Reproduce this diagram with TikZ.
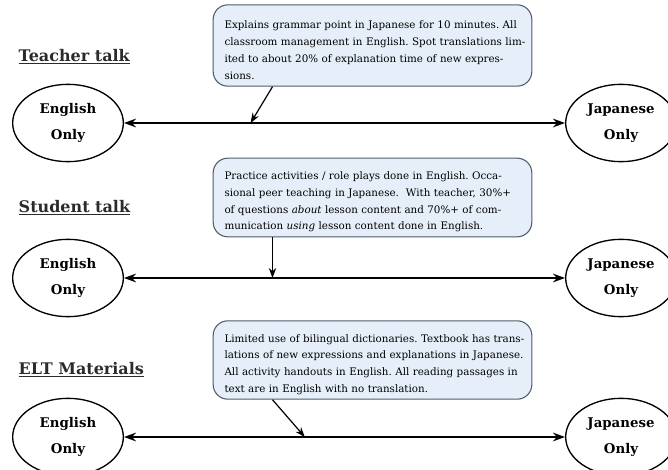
\documentclass[tikz,border=0pt]{standalone}
\usepackage{fontspec}
\setmainfont{DejaVu Serif}
\usetikzlibrary{shapes.geometric,calc,arrows.meta}
\frenchspacing

\definecolor{calloutfill}{HTML}{E6EFF9}
\definecolor{calloutdraw}{HTML}{4F5D6B}
\definecolor{headink}{HTML}{2B2B2B}

% one justified line of a callout
\newcommand{\fitline}[1]{\par\noindent\hbox to\linewidth{#1}\par}

\begin{document}
\begin{tikzpicture}[
    x=0.75pt, y=-0.75pt,
    % Define styles
    callout/.style={
        rectangle,
        draw=calloutdraw,
        fill=calloutfill,
        line width=0.8pt,
        rounded corners=11pt,
        minimum width=239pt,
        inner xsep=8.5pt,
        text width=222pt,
        align=left,
        font=\fontsize{7.75}{12.6}\selectfont
    },
    pole/.style={
        ellipse,
        draw,
        line width=1pt,
        minimum width=83pt,
        minimum height=58pt,
        inner sep=0pt,
        align=center,
        font=\fontsize{10}{19}\selectfont\bfseries
    },
    heading/.style={
        anchor=west,
        text=headink,
        font=\fontsize{12}{14}\selectfont\bfseries
    },
    continuum/.style={
        {Stealth[length=9pt,width=6.5pt]}-{Stealth[length=9pt,width=6.5pt]},
        line width=1.4pt
    },
    pointer/.style={
        -{Stealth[length=7.5pt,width=5.5pt]},
        line width=0.9pt
    }
]

\clip (0,0) rectangle (668,470);

% Teacher talk
\node[callout, minimum height=61pt] (box1) at (372.5,45.5) {\fitline{Explains grammar point in Japanese for 10 minutes. All}\fitline{classroom management in English. Spot translations lim-}\fitline{ited to about 20\% of explanation time of new expres-}sions.};
\node[heading] (head1) at (14,57) {\underline{Teacher talk}};
\node[pole] (eng1) at (68,123) {English\\Only};
\node[pole] (jap1) at (621,123) {Japanese\\Only};
\draw[continuum] (eng1) -- (jap1);
\coordinate (from1) at ([xshift=-75pt]box1.south);
\coordinate (tip1) at ($(eng1.east)!0.287!(jap1.west)$);
\draw[pointer] (from1) -- (tip1);

% Student talk
\node[callout, minimum height=59pt] (box2) at (372.5,197.5) {\fitline{Practice activities / role plays done in English. Occa-}\fitline{sional peer teaching in Japanese.\ \ With teacher, 30\%+}\fitline{of questions \textit{about} lesson content and 70\%+ of com-}munication \textit{using} lesson content done in English.};
\node[heading] (head2) at (14,208) {\underline{Student talk}};
\node[pole] (eng2) at (68,278) {English\\Only};
\node[pole] (jap2) at (621,278) {Japanese\\Only};
\draw[continuum] (eng2) -- (jap2);
\coordinate (from2) at ([xshift=-75pt]box2.south);
\coordinate (tip2) at (from2 |- eng2.east);
\draw[pointer] (from2) -- (tip2);

% ELT materials
\node[callout, minimum height=57pt] (box3) at (372.5,360) {\fitline{Limited use of bilingual dictionaries. Textbook has trans-}\fitline{lations of new expressions and explanations in Japanese.}\fitline{All activity handouts in English. All reading passages in}text are in English with no translation.};
\node[heading] (head3) at (14,370) {\underline{ELT Materials}};
\node[pole] (eng3) at (68,437) {English\\Only};
\node[pole] (jap3) at (621,437) {Japanese\\Only};
\draw[continuum] (eng3) -- (jap3);
\coordinate (from3) at ([xshift=-75pt]box3.south);
\coordinate (tip3) at ($(eng3.east)!0.41!(jap3.west)$);
\draw[pointer] (from3) -- (tip3);
\end{tikzpicture}
\end{document}
